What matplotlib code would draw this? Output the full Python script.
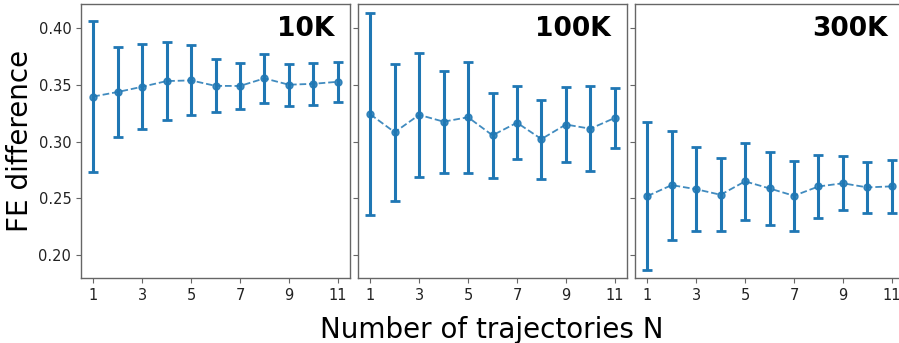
import numpy as np
import matplotlib
matplotlib.use("Agg")
import matplotlib.pyplot as plt

# number of trajectories used for each estimate
n_traj = [1, 2, 3, 4, 5, 6, 7, 8, 9, 10, 11]

panel_labels = ["10K", "100K", "300K"]

fe_10k = [0.3396, 0.3436, 0.3482, 0.3532, 0.3538, 0.3490, 0.3489, 0.3556, 0.3500, 0.3508, 0.3526]
err_10k = [0.0666, 0.0396, 0.0372, 0.0342, 0.0308, 0.0234, 0.0204, 0.0213, 0.0184, 0.0184, 0.0175]

fe_100k = [0.3240, 0.3082, 0.3235, 0.3175, 0.3214, 0.3055, 0.3166, 0.3022, 0.3150, 0.3113, 0.3208]
err_100k = [0.0888, 0.0603, 0.0545, 0.0450, 0.0489, 0.0373, 0.0321, 0.0348, 0.0334, 0.0372, 0.0266]

fe_300k = [0.2520, 0.2617, 0.2581, 0.2532, 0.2650, 0.2588, 0.2523, 0.2605, 0.2633, 0.2597, 0.2606]
err_300k = [0.0650, 0.0480, 0.0368, 0.0321, 0.0339, 0.0318, 0.0310, 0.0277, 0.0237, 0.0225, 0.0234]

means = [fe_10k, fe_100k, fe_300k]
errs = [err_10k, err_100k, err_300k]

W, H = 899, 343
fig = plt.figure(figsize=(W / 100, H / 100), dpi=100)

spine_col = "#666666"
left0 = 81
step = 277
ax_w = 269
bottom = 65
ax_h = 274

for i in range(3):
    ax = fig.add_axes([(left0 + i * step) / W, bottom / H, ax_w / W, ax_h / H])
    ax.errorbar(n_traj, means[i], yerr=errs[i], fmt="o--", color="tab:blue",
                markersize=5, linewidth=1.3, elinewidth=2.2,
                capsize=3.5, capthick=2)
    # dashed connecting line drawn a bit lighter
    ax.lines[0].set_alpha(0.85)
    ax.set_xlim(0.5, 11.5)
    ax.set_ylim(0.18, 0.421)
    ax.set_xticks([1, 3, 5, 7, 9, 11])
    ax.set_yticks([0.20, 0.25, 0.30, 0.35, 0.40])
    ax.tick_params(labelsize=10.5, colors=spine_col, labelcolor="#222222",
                   length=3.5, width=0.8)
    if i > 0:
        ax.set_yticklabels([])
    for s in ax.spines.values():
        s.set_color(spine_col)
        s.set_linewidth(1.0)
    ax.text(0.94, 0.955, panel_labels[i], transform=ax.transAxes,
            ha="right", va="top", fontsize=19, fontweight="bold")

fig.text(20 / W, 1 - 141 / H, "FE difference", rotation=90,
         ha="center", va="center", fontsize=20)
fig.text(492 / W, 5 / H, "Number of trajectories N",
         ha="center", va="baseline", fontsize=20)

fig.savefig("out.png", dpi=100)
